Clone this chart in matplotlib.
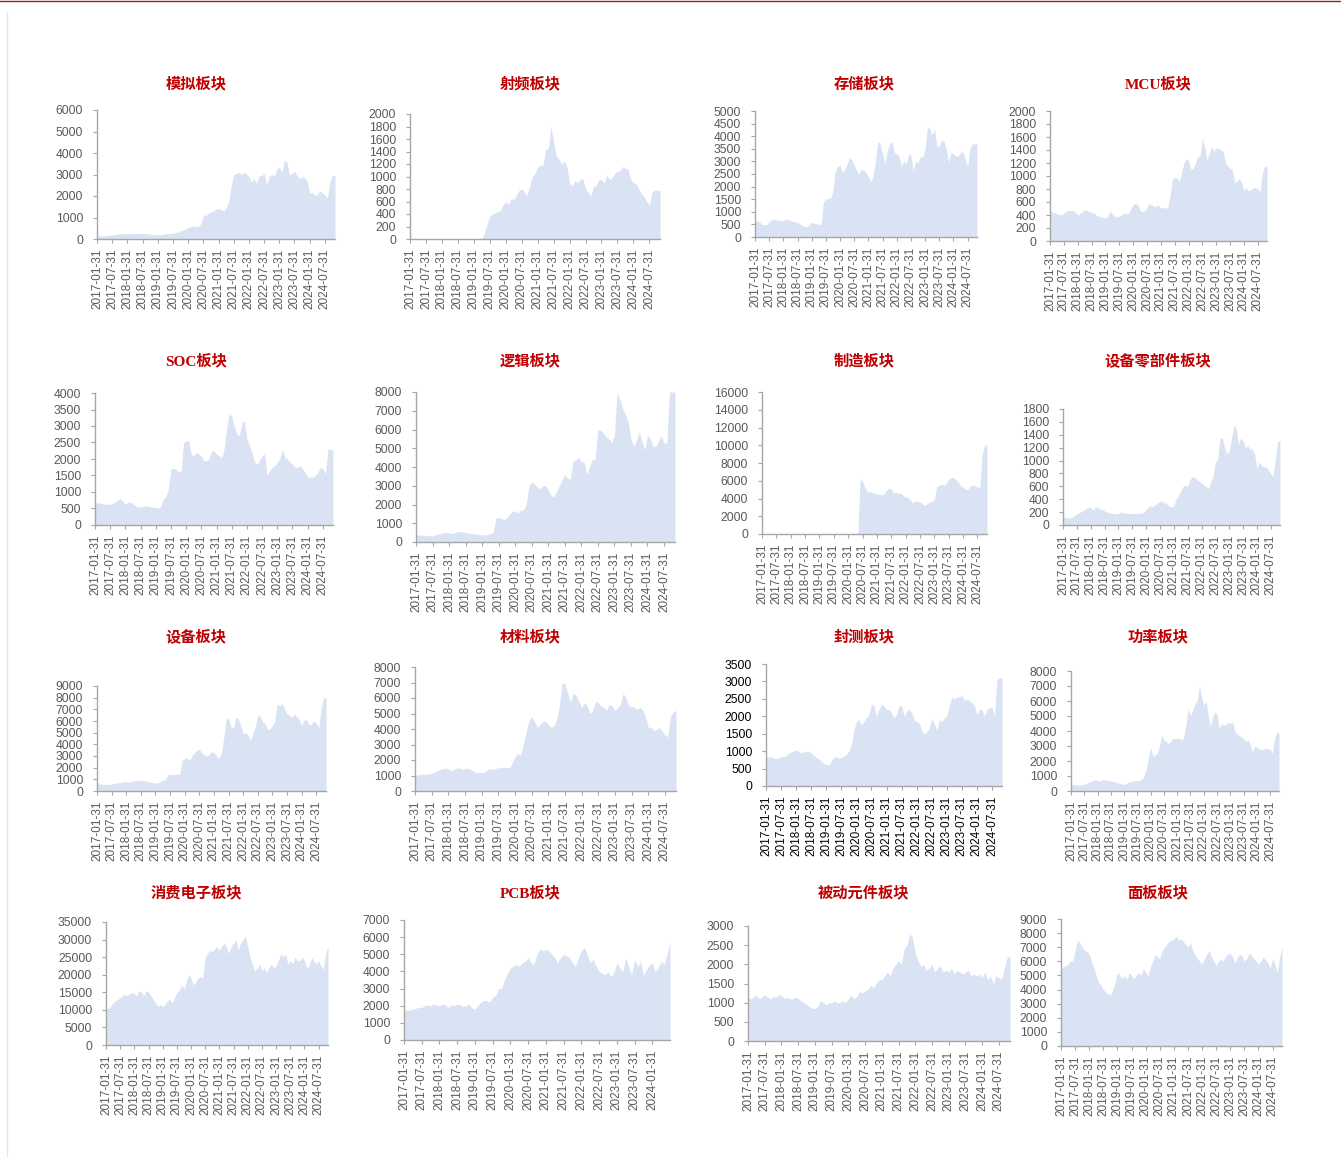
import matplotlib
matplotlib.use('Agg')
import matplotlib.pyplot as plt
from matplotlib.lines import Line2D
import numpy as np

plt.rcParams['font.family'] = ['Liberation Sans', 'Noto Sans CJK SC', 'DejaVu Sans']

W, H = 1341, 1157

TICK_LABELS = ['2017-01-31', '2017-07-31', '2018-01-31', '2018-07-31', '2019-01-31',
               '2019-07-31', '2020-01-31', '2020-07-31', '2021-01-31', '2021-07-31',
               '2022-01-31', '2022-07-31', '2023-01-31', '2023-07-31', '2024-01-31',
               '2024-07-31']

TITLES = ['模拟板块', '射频板块', '存储板块', 'MCU板块',
          'SOC板块', '逻辑板块', '制造板块', '设备零部件板块',
          '设备板块', '材料板块', '封测板块', '功率板块',
          '消费电子板块', 'PCB板块', '被动元件板块', '面板板块']

# monthly values from 2017-01
analog = [150, 140, 140, 150, 160, 170, 190, 210, 230, 240, 250, 250,
          240, 250, 250, 260, 250, 250, 260, 250, 240, 230, 210, 200,
          200, 190, 220, 240, 250, 250, 270, 300, 330, 380, 420, 460,
          520, 580, 600, 570, 600, 700, 1100, 1100, 1200, 1250, 1300, 1400,
          1400, 1380, 1300, 1450, 1700, 2500, 3000, 3050, 3100, 3000, 3100, 3050,
          2900, 2650, 2800, 2600, 2950, 2950, 3050, 2500, 2900, 3000, 2900, 3250,
          3350, 3100, 3650, 3600, 3000, 3050, 3150, 2950, 2800, 2900, 2850, 2700,
          2150, 2150, 2050, 2050, 2250, 2150, 2050, 1900, 2700, 2950, 2950]

rf = [0] * 28 + [100, 250, 370, 400, 420, 440, 450, 550,
                 600, 550, 650, 630, 700, 780, 800, 750, 700, 850, 1000, 1050,
                 1150, 1180, 1180, 1430, 1450, 1800, 1550, 1330, 1280, 1200, 1250, 1150,
                 900, 850, 930, 900, 950, 970, 800, 750, 680, 850, 850, 950,
                 950, 900, 1020, 950, 980, 1050, 1080, 1100, 1160, 1130, 1120, 950,
                 900, 880, 800, 720, 680, 600, 540, 750, 780, 780, 780]

memory = [600, 650, 600, 500, 480, 500, 600, 680, 700, 680, 650, 650,
          650, 720, 700, 640, 620, 600, 580, 520, 450, 420, 400, 500,
          580, 550, 520, 500, 520, 1400, 1500, 1520, 1550, 1800, 2600, 2800,
          2850, 2550, 2700, 2900, 3150, 3050, 2850, 2650, 2500, 2700, 2650, 2550,
          2400, 2200, 2400, 3000, 3800, 3700, 3300, 2900, 3400, 3700, 3800, 3350,
          3300, 3200, 2800, 3000, 2900, 3300, 3250, 2600, 3000, 2950, 3200, 3150,
          3500, 4350, 4300, 4050, 4300, 3600, 3600, 3850, 3800, 3500, 2950, 3350,
          3300, 3200, 3200, 3350, 3400, 3100, 2800, 3500, 3700, 3700, 3700]

mcu = [450, 450, 440, 420, 410, 400, 420, 460, 470, 470, 470, 440,
       400, 420, 450, 480, 470, 450, 440, 430, 400, 380, 370, 360,
       350, 380, 460, 420, 380, 370, 380, 400, 430, 420, 420, 500,
       560, 580, 560, 470, 450, 460, 520, 570, 560, 530, 540, 550,
       510, 520, 500, 520, 700, 950, 980, 970, 920, 1050, 1200, 1260,
       1240, 1100, 1120, 1200, 1300, 1310, 1570, 1450, 1250, 1350, 1450, 1380,
       1430, 1420, 1400, 1380, 1200, 1150, 1120, 1100, 900, 920, 960, 900,
       780, 820, 770, 790, 820, 820, 800, 760, 1050, 1150, 1150]

soc = [650, 680, 670, 640, 620, 630, 630, 650, 700, 750, 800, 720,
       620, 680, 700, 650, 580, 550, 550, 560, 580, 570, 550, 540,
       530, 520, 560, 800, 850, 1100, 1700, 1720, 1700, 1600, 1650, 2500,
       2550, 2550, 2150, 2100, 2200, 2150, 2100, 1950, 1950, 2000, 2250, 2250,
       2150, 2100, 2050, 2300, 2900, 3400, 3300, 3000, 2750, 2700, 3100, 3150,
       2600, 2400, 2200, 1900, 1850, 1950, 2100, 2150, 1500, 1650, 1750, 1800,
       1900, 2000, 2300, 2050, 2000, 1900, 1850, 1750, 1750, 1800, 1700, 1600,
       1450, 1450, 1450, 1500, 1600, 1750, 1700, 1550, 2300, 2300, 2250]

logic = [380, 380, 360, 350, 340, 330, 330, 380, 420, 450, 500, 500,
         480, 450, 500, 550, 560, 540, 500, 480, 460, 440, 420, 400,
         380, 370, 400, 450, 480, 1300, 1300, 1250, 1200, 1300, 1500, 1650,
         1650, 1550, 1700, 1700, 2000, 3000, 3200, 3100, 2900, 2850, 3000, 3000,
         2800, 2500, 2400, 2700, 3000, 3300, 3600, 3400, 3350, 4300, 4400, 4500,
         4300, 4250, 3600, 4000, 4400, 4400, 6000, 5950, 5800, 5600, 5500, 5300,
         5700, 8000, 7600, 7100, 6800, 6400, 5500, 5100, 5400, 5850, 5400, 4900,
         5700, 5500, 5100, 5100, 5400, 5650, 5300, 5250, 8000, 8000, 8000]

manufacturing = [0] * 41 + [6200,
                            6000, 5200, 4700, 4800, 4700, 4600,
                            4500, 4500, 4400, 4500, 4900, 5200, 5000, 4600, 4700, 4600, 4600, 4300,
                            4200, 4100, 3800, 3500, 3700, 3700, 3600, 3400, 3200, 3400, 3600, 3700,
                            3900, 5300, 5500, 5600, 5500, 5700, 6200, 6300, 6400, 6100, 5900, 5400,
                            5300, 5000, 5000, 5400, 5500, 5400, 5300, 5200, 9000, 10000, 10000]

equip_parts = [120, 120, 110, 110, 120, 150, 170, 190, 210, 230, 260, 270,
               270, 230, 280, 270, 250, 240, 220, 200, 190, 180, 180, 170,
               180, 200, 190, 180, 180, 180, 180, 180, 180, 180, 180, 200,
               240, 280, 300, 280, 320, 340, 370, 360, 350, 320, 290, 280,
               300, 400, 450, 530, 600, 620, 600, 700, 750, 740, 700, 680,
               650, 620, 600, 560, 680, 750, 980, 1020, 1350, 1350, 1200, 1100,
               1150, 1350, 1550, 1500, 1250, 1350, 1300, 1200, 1230, 1180, 1180, 1100,
               870, 980, 920, 900, 900, 850, 800, 760, 1050, 1300, 1300]

equipment = [600, 600, 580, 580, 560, 560, 580, 650, 680, 700, 750, 800,
             780, 750, 800, 850, 900, 900, 880, 880, 850, 800, 750, 680,
             680, 700, 800, 950, 900, 1400, 1450, 1400, 1400, 1450, 1450, 2600,
             2800, 2850, 2600, 3000, 3300, 3500, 3550, 3300, 3100, 3000, 3100, 3350,
             3300, 3000, 2800, 3200, 4500, 6200, 6200, 5500, 5400, 6300, 6200, 5600,
             4900, 5000, 4800, 4300, 5000, 5500, 6500, 6400, 5900, 5800, 5300, 5300,
             5600, 6000, 7500, 7300, 7500, 7000, 6600, 6500, 6300, 6600, 6400, 6100,
             5600, 6100, 6100, 5700, 5700, 6000, 5800, 5400, 7000, 8000, 8000]

materials = [1000, 1050, 1080, 1100, 1080, 1100, 1150, 1200, 1300, 1380, 1450, 1480,
             1450, 1300, 1400, 1480, 1480, 1400, 1450, 1450, 1400, 1300, 1200, 1200,
             1200, 1180, 1350, 1450, 1400, 1450, 1500, 1500, 1550, 1500, 1500, 1800,
             2200, 2400, 2300, 3000, 3800, 4500, 4800, 4500, 4100, 4300, 4500, 4500,
             4300, 4100, 4200, 4600, 5500, 7000, 6900, 6300, 5700, 6300, 6200, 5800,
             5400, 5700, 5500, 5000, 5200, 5800, 5700, 5500, 5400, 5200, 5600, 5500,
             5200, 5400, 5600, 6300, 6000, 5500, 5450, 5400, 5250, 5400, 5250, 4800,
             4100, 4100, 3900, 3950, 4100, 3900, 3600, 3500, 4800, 5100, 5200]

packaging = [820, 830, 840, 800, 780, 800, 850, 840, 880, 950, 970, 1000,
             1030, 1000, 950, 980, 1000, 1000, 950, 880, 820, 780, 720, 650,
             620, 600, 700, 820, 850, 800, 820, 850, 900, 1000, 1200, 1600,
             1850, 1900, 1750, 1850, 1950, 2050, 2350, 2300, 2000, 2200, 2350, 2300,
             2200, 2200, 2100, 1950, 2050, 2300, 2300, 2000, 2150, 2200, 2100, 1900,
             1850, 1800, 1600, 1500, 1550, 1650, 1950, 1800, 1600, 1900, 1850, 1950,
             2000, 2300, 2550, 2500, 2550, 2550, 2600, 2450, 2500, 2450, 2400, 2300,
             2050, 2200, 2200, 2000, 2200, 2250, 2250, 2000, 3050, 3100, 3100]

power = [350, 430, 420, 400, 400, 420, 450, 500, 580, 650, 700, 750,
         700, 650, 750, 780, 720, 700, 680, 650, 600, 550, 500, 480,
         450, 500, 600, 650, 650, 680, 680, 700, 800, 1000, 1500, 2200,
         2900, 2300, 2400, 2500, 3000, 3700, 3400, 3300, 3100, 3300, 3500, 3500,
         3500, 3500, 3400, 3600, 4500, 5500, 5000, 5400, 5800, 6000, 7000, 6300,
         5700, 6000, 5000, 4300, 4900, 5300, 5100, 4100, 4500, 4400, 4400, 4600,
         4500, 4600, 4000, 3800, 3700, 3600, 3500, 3300, 3400, 3100, 2600, 3000,
         2900, 2800, 2800, 2750, 2900, 2800, 2800, 2500, 3500, 3900, 3900]

consumer = [10000, 10500, 11000, 12000, 12500, 13000, 13500, 14000, 14500, 14000, 14500, 15000,
            14500, 14000, 15500, 15000, 14000, 15500, 15000, 14000, 13000, 12000, 11000, 11500,
            11000, 11500, 12500, 13000, 12000, 13500, 15000, 15500, 17000, 16000, 18000, 20000,
            19000, 17000, 18000, 19000, 19500, 19000, 25000, 26000, 27000, 26500, 27500, 28000,
            27000, 28000, 29000, 28000, 26000, 28000, 29000, 30000, 27000, 29000, 30000, 31000,
            28000, 25000, 23000, 21000, 22000, 23000, 21000, 22000, 20500, 22000, 23000, 22000,
            22500, 24000, 26000, 25000, 26000, 23000, 24000, 23000, 25000, 24000, 24000, 25000,
            24000, 22000, 22500, 25000, 24000, 23000, 24000, 22500, 21500, 26000, 28000]

pcb = [1700, 1750, 1750, 1800, 1850, 1900, 1900, 2000, 2050, 2000, 2100, 2050,
       2000, 2100, 2050, 1900, 2050, 2000, 2100, 2050, 1950, 2000, 2100, 1850,
       1800, 2000, 2200, 2300, 2300, 2200, 2500, 2600, 3000, 3000, 3500, 3900,
       4200, 4300, 4400, 4300, 4500, 4600, 4800, 4500, 4400, 5000, 5300, 5200,
       5300, 5200, 5000, 4800, 4500, 4800, 5000, 4900, 4800, 4500, 4300, 4800,
       5200, 5400, 5000, 4500, 4700, 4300, 4000, 3900, 3800, 4000, 3700, 3900,
       4500, 4200, 4000, 4800, 4300, 3800, 4700, 4300, 4600, 3800, 4100, 4400,
       4500, 4000, 4200, 4600, 4400, 5000, 5700]

passive = [1150, 1100, 1150, 1200, 1100, 1150, 1200, 1150, 1100, 1150, 1150, 1200,
           1200, 1100, 1150, 1100, 1100, 1150, 1100, 1050, 1000, 950, 900, 850,
           850, 900, 1050, 1000, 950, 1000, 1000, 1050, 1000, 1000, 1050, 1000,
           1100, 1200, 1100, 1150, 1300, 1250, 1300, 1350, 1450, 1400, 1500, 1600,
           1600, 1700, 1800, 1700, 1900, 2000, 2100, 2000, 2400, 2500, 2800, 2700,
           2300, 2100, 1950, 2000, 1850, 1900, 2000, 1800, 1900, 1950, 1800, 1850,
           1800, 1900, 1750, 1850, 1800, 1750, 1800, 1850, 1700, 1750, 1700, 1750,
           1650, 1800, 1600, 1700, 1500, 1700, 1650, 1600, 1900, 2200, 2200]

panel = [5500, 5600, 5700, 5800, 6000, 6000, 6800, 7500, 7300, 7000, 6800, 6700,
         6500, 6000, 5500, 5000, 4500, 4300, 4000, 3800, 3700, 3600, 4000, 4500,
         5200, 5000, 4800, 5000, 4700, 5200, 5000, 4800, 5000, 5200, 5000, 5500,
         5200, 5000, 5600, 6000, 6500, 6300, 6200, 6800, 7000, 7200, 7400, 7500,
         7600, 7800, 7500, 7600, 7400, 7200, 7000, 7300, 6800, 6500, 6200, 6000,
         5800, 6200, 6500, 6800, 6300, 6000, 5700, 6000, 6200, 6000, 6400, 6500,
         6600, 6300, 5900, 6300, 6500, 6400, 6000, 6200, 6600, 6400, 6200, 6000,
         5800, 6000, 6300, 6100, 5900, 5500, 6200, 5800, 5200, 6300, 7000]

SERIES = [analog, rf, memory, mcu, soc, logic, manufacturing, equip_parts,
          equipment, materials, packaging, power, consumer, pcb, passive, panel]
YMAX = [6000, 2000, 5000, 2000, 4000, 8000, 16000, 1800,
        9000, 8000, 3500, 8000, 35000, 7000, 3000, 9000]
YSTEP = [1000, 200, 500, 200, 500, 1000, 2000, 200,
         1000, 1000, 500, 1000, 5000, 1000, 500, 1000]
NTICKS = [16] * 13 + [15, 16, 16]

# layout (pixels: left, top, right, bottom)
BOXES = [(97, 110, 335, 239), (410, 114, 660, 239), (755, 111, 977, 237), (1050, 111, 1267, 241),
         (95, 393, 333, 525), (416, 392, 675, 542), (762, 392, 987, 534), (1063, 409, 1280, 525),
         (97, 686, 326, 791), (415, 667, 676, 791), (766, 664, 1002, 786), (1071, 671, 1279, 791),
         (106, 922, 328, 1045), (404, 920, 670, 1040), (748, 926, 1010, 1041), (1061, 919, 1282, 1046)]
TITLE_X = [196, 530, 864, 1158]
TITLE_Y = [84, 361, 637, 893]

FILL = '#DAE3F3'
AXCOL = '#A6A6A6'
LABCOL = '#595959'

fig = plt.figure(figsize=(W / 100, H / 100), dpi=100)
fig.patch.set_facecolor('white')

for k in range(16):
    l, t, r, b = BOXES[k]
    ax = fig.add_axes([l / W, 1 - b / H, (r - l) / W, (b - t) / H])
    vals = SERIES[k]
    x = np.arange(len(vals))
    ax.fill_between(x, 0, vals, color=FILL, lw=0)
    ax.set_xlim(0, len(vals) - 1)
    ax.set_ylim(0, YMAX[k])
    ax.set_yticks(np.arange(0, YMAX[k] + YSTEP[k] / 2, YSTEP[k]))
    nt = NTICKS[k]
    ax.set_xticks(np.arange(0, 6 * nt, 6))
    ax.set_xticklabels(TICK_LABELS[:nt], rotation=90)
    for s in ['top', 'right']:
        ax.spines[s].set_visible(False)
    for s in ['left', 'bottom']:
        ax.spines[s].set_color(AXCOL)
        ax.spines[s].set_linewidth(1.0)
    lc = '#000000' if k == 10 else LABCOL
    ax.tick_params(axis='y', direction='out', length=3, width=0.8, color=AXCOL,
                   labelsize=8.7, labelcolor=lc, pad=7)
    ax.tick_params(axis='x', direction='out', length=3, width=0.8, color=AXCOL,
                   labelsize=8.5, labelcolor=lc, pad=4)
    ax.set_facecolor('none')
    fig.text(TITLE_X[k % 4] / W, 1 - TITLE_Y[k // 4] / H, TITLES[k],
             ha='center', va='center', fontsize=11, fontweight='bold', color='#C00000',
             family=['Liberation Serif', 'Noto Sans CJK SC'])

fig.add_artist(Line2D([0, 1], [1 - 1 / H, 1 - 1 / H], color='#A02020', lw=1))
fig.add_artist(Line2D([7 / W, 7 / W], [0, 1 - 12 / H], color='#E6E6E6', lw=1))

fig.savefig('out.png', dpi=100, facecolor='white')
